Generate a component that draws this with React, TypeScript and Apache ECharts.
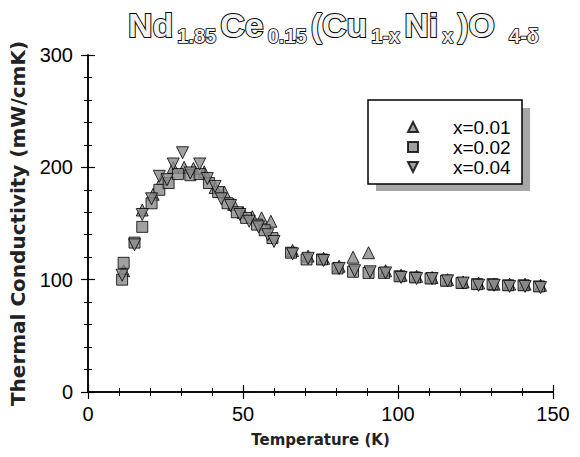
import React, { useEffect, useRef } from "react";
import * as echarts from "echarts";

const seriesNames = ["x=0.01", "x=0.02", "x=0.04"];

// Temperature (K), thermal conductivity (mW/cmK)
const dataX001: number[][] = [
  [11.5, 108], [17.5, 162], [21, 176], [24, 190], [27.5, 200], [31, 200], [34, 199],
  [37.5, 196], [41, 182], [44, 178], [47, 167], [50, 160], [53, 156], [56, 155],
  [59, 152], [66, 126], [71, 121], [76, 119], [81, 112], [85.5, 120], [90.5, 124],
  [96, 108], [101, 104], [106, 103], [111, 102], [116, 100], [121, 98], [126, 97],
  [131, 96], [136, 96], [141, 96], [146, 95],
];

const dataX002: number[][] = [
  [11, 100], [11.5, 115], [15, 133], [17.5, 147], [20.5, 168], [23, 180], [26, 186],
  [29, 194], [33, 193], [36, 194], [39, 186], [42, 178], [45, 168], [48, 160],
  [51, 155], [54.5, 149], [57, 144], [59.5, 137], [65.5, 124], [70.5, 118],
  [75.5, 118], [80.5, 110], [85.5, 107], [90.5, 106], [95.5, 106], [100.5, 103],
  [105.5, 102], [110.5, 101], [115.5, 99], [120.5, 97], [125.5, 96], [130.5, 96],
  [135.5, 95], [140.5, 95], [145.5, 94],
];

const dataX004: number[][] = [
  [11, 104], [15, 131], [17.5, 158], [20.5, 172], [23, 192], [25.5, 189], [27.5, 203],
  [30.5, 213], [33, 195], [36, 203], [38.5, 190], [41, 183], [43, 172], [46, 166],
  [49, 158], [52, 152], [55, 147], [58, 140], [60, 134], [66, 123], [71, 119],
  [76, 117], [81, 110], [86, 108], [91, 107], [96, 106], [101, 102], [106, 101],
  [111, 101], [116, 99], [121, 97], [126, 95], [131, 95], [136, 94], [141, 94],
  [146, 93],
];

const xMin = 0;
const xMax = 150;
const xInterval = 50;
const yMin = 0;
const yMax = 300;
const yInterval = 100;

const titleRich =
  "{m|Nd}{s|1.85}{m|Ce}{s|0.15}{m|(Cu}{s|1-x}{m|Ni}{s|x}{m|)O}{s2|4-δ}";

export default function App() {
  const ref = useRef<HTMLDivElement>(null);

  useEffect(() => {
    if (!ref.current) return;
    const chart = echarts.init(ref.current, null, { renderer: "svg" });

    const axisLine = { show: true, lineStyle: { color: "#000", width: 1.5 } };
    const tick = { show: true, inside: true, length: 7, lineStyle: { color: "#000", width: 1.2 } };
    const minor = { show: true, splitNumber: 5, length: 4, lineStyle: { color: "#000", width: 1 } };
    const labelFont = { fontSize: 20, fontFamily: "Liberation Sans", color: "#000" };
    const nameFont = {
      fontSize: 20,
      fontFamily: "DejaVu Sans",
      fontWeight: "bold" as const,
      color: "#222",
    };

    const markerStyle = { color: "#8a8a8a", borderColor: "#000", borderWidth: 1 };

    const titleMain = {
      fontFamily: "Liberation Sans",
      color: "#f2f2f2",
      textBorderColor: "#000",
    };

    chart.setOption({
      animation: false,
      backgroundColor: "#fff",
      title: {
        text: titleRich,
        left: 128,
        top: 8,
        padding: 0,
        textStyle: {
          rich: {
            m: {
              ...titleMain,
              fontSize: 34,
              textBorderWidth: 2,
              lineHeight: 38,
              padding: [0, 0, 6, 0],
              verticalAlign: "top",
            },
            s: {
              ...titleMain,
              fontSize: 20,
              textBorderWidth: 1.6,
              lineHeight: 22,
              padding: [0, 4, 0, 4],
              verticalAlign: "bottom",
            },
            s2: {
              ...titleMain,
              fontSize: 20,
              textBorderWidth: 1.6,
              lineHeight: 22,
              padding: [0, 4, 0, 14],
              verticalAlign: "bottom",
            },
          },
        },
      },
      grid: { left: 88, top: 55, right: 27, bottom: 65, containLabel: false },
      graphic: [
        {
          type: "rect",
          z: 0,
          shape: { x: 376, y: 108, width: 154, height: 83 },
          style: { fill: "#a6a6a6" },
        },
        {
          type: "rect",
          z: 1,
          shape: { x: 368, y: 100, width: 154, height: 84 },
          style: { fill: "#fff", stroke: "#000", lineWidth: 1.5 },
        },
      ],
      legend: {
        orient: "vertical",
        left: 407,
        top: 117,
        itemWidth: 10,
        itemHeight: 10,
        itemGap: 0,
        padding: 0,
        data: seriesNames,
        textStyle: { ...labelFont, fontSize: 19, lineHeight: 20, padding: [0, 0, 0, 30] },
      },
      xAxis: [
        {
          type: "value",
          position: "bottom",
          min: xMin,
          max: xMax,
          interval: xInterval,
          axisLine,
          axisTick: tick,
          minorTick: minor,
          splitLine: { show: false },
          axisLabel: { ...labelFont, margin: 12 },
          name: "Temperature (K)",
          nameLocation: "middle",
          nameGap: 40,
          nameTextStyle: { ...nameFont, fontSize: 15 },
        },
        {
          type: "value",
          position: "top",
          min: xMin,
          max: xMax,
          interval: xInterval,
          axisLine,
          axisTick: tick,
          minorTick: minor,
          splitLine: { show: false },
          axisLabel: { show: false },
        },
      ],
      yAxis: [
        {
          type: "value",
          position: "left",
          min: yMin,
          max: yMax,
          interval: yInterval,
          axisLine,
          axisTick: tick,
          minorTick: minor,
          splitLine: { show: false },
          axisLabel: { ...labelFont, margin: 15 },
          name: "Thermal Conductivity (mW/cmK)",
          nameLocation: "middle",
          nameGap: 60,
          nameTextStyle: nameFont,
        },
        {
          type: "value",
          position: "right",
          min: yMin,
          max: yMax,
          interval: yInterval,
          axisLine,
          axisTick: tick,
          minorTick: minor,
          splitLine: { show: false },
          axisLabel: { show: false },
        },
      ],
      series: [
        {
          name: seriesNames[0],
          type: "scatter",
          symbol: "triangle",
          symbolSize: 12,
          itemStyle: markerStyle,
          data: dataX001,
        },
        {
          name: seriesNames[1],
          type: "scatter",
          symbol: "rect",
          symbolSize: 11,
          itemStyle: markerStyle,
          data: dataX002,
        },
        {
          name: seriesNames[2],
          type: "scatter",
          symbol: "path://M0,0 L10,0 L5,10 Z",
          symbolSize: 12,
          itemStyle: markerStyle,
          data: dataX004,
        },
      ],
    });

    return () => chart.dispose();
  }, []);

  return (
    <div
      ref={ref}
      style={{ position: "absolute", left: 0, top: 0, width: 580, height: 457, background: "#fff" }}
    />
  );
}
